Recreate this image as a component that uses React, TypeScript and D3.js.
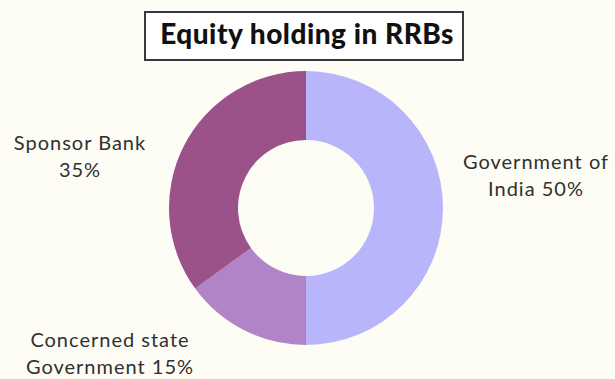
import React from "react";
import * as d3 from "d3";

const categories = ["Government of India", "Concerned state Government", "Sponsor Bank"];
const values = [50, 15, 35];
const colors = ["#b9b5fb", "#b084c6", "#9b5289"];
const labelLines = [
  ["Government of", "India 50%"],
  ["Concerned state", "Government 15%"],
  ["Sponsor Bank", "35%"],
];
const title = "Equity holding in RRBs";

const W = 615;
const H = 379;

export default function App() {
  const cx = 306;
  const cy = 208;
  const outerR = 137;
  const innerR = 68;
  const pie = d3.pie<number>().sort(null).startAngle(0).endAngle(2 * Math.PI);
  const arcs = pie(values);
  const arc = d3.arc<d3.PieArcDatum<number>>().innerRadius(innerR).outerRadius(outerR);
  const labelPos = [
    { x: 536, y: 169 },
    { x: 110, y: 347 },
    { x: 80, y: 150 },
  ];
  const font = "'Lato', 'Open Sans', sans-serif";
  return (
    <div style={{ position: "fixed", left: 0, top: 0 }}>
      <svg width={W} height={H} style={{ display: "block" }}>
        <rect x={0} y={0} width={W} height={H} fill="#fdfdf6" />
        <rect x={145} y={12} width={318} height={48} fill="#ffffff" stroke="#3a3a3a" strokeWidth={2} />
        <text x={307} y={44} textAnchor="middle" fontFamily={font} fontWeight={900} fontSize={28} letterSpacing={0.5} fill="#111">
          {title}
        </text>
        <g transform={`translate(${cx},${cy})`}>
          {arcs.map((a, i) => (
            <path key={categories[i]} d={arc(a) || ""} fill={colors[i]} />
          ))}
        </g>
        {labelLines.map((lines, i) => (
          <text key={categories[i]} textAnchor="middle" fontFamily={font} fontSize={20} letterSpacing={1} fill="#303030">
            {lines.map((l, j) => (
              <tspan key={j} x={labelPos[i].x} y={labelPos[i].y + j * 27}>
                {l}
              </tspan>
            ))}
          </text>
        ))}
      </svg>
    </div>
  );
}
